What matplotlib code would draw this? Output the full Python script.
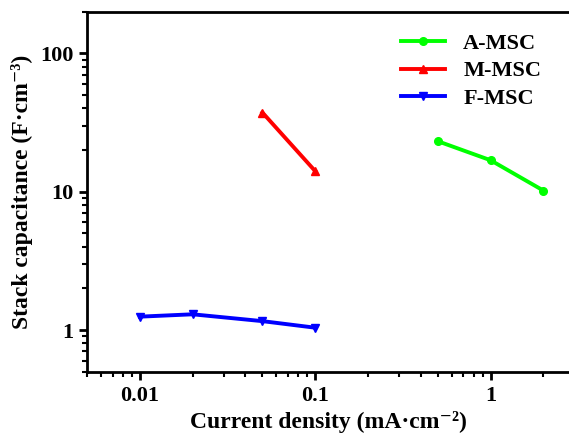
import matplotlib
matplotlib.use("Agg")
import matplotlib.pyplot as plt
from matplotlib.ticker import LogLocator, FixedLocator, FixedFormatter, NullFormatter

a_x = [0.5, 1.0, 2.0]
a_y = [23.2, 16.9, 10.2]
m_x = [0.05, 0.1]
m_y = [37.4, 14.1]
f_x = [0.01, 0.02, 0.05, 0.1]
f_y = [1.25, 1.30, 1.16, 1.04]

x_ticks = [0.01, 0.1, 1]
x_labels = ["0.01", "0.1", "1"]
y_ticks = [1, 10, 100]
y_labels = ["1", "10", "100"]

plt.rcParams['font.family'] = ['Liberation Serif', 'DejaVu Serif']
plt.rcParams['font.weight'] = 'bold'

fig = plt.figure(figsize=(5.69, 4.38), dpi=100)
ax = fig.add_axes([0.153, 0.1514, 0.847, 0.8216])

lw = 2.8
ms = 5.5
ax.plot(a_x, a_y, color='#00ff00', marker='o', lw=lw, ms=ms, label='A-MSC')
ax.plot(m_x, m_y, color='#ff0000', marker='^', lw=lw, ms=ms, label='M-MSC')
ax.plot(f_x, f_y, color='#0000ff', marker='v', lw=lw, ms=ms, label='F-MSC')

ax.set_xscale('log')
ax.set_yscale('log')
ax.set_xlim(0.005, 2.8)
ax.set_ylim(0.5, 200)

ax.xaxis.set_major_locator(FixedLocator(x_ticks))
ax.xaxis.set_major_formatter(FixedFormatter(x_labels))
ax.yaxis.set_major_locator(FixedLocator(y_ticks))
ax.yaxis.set_major_formatter(FixedFormatter(y_labels))
ax.xaxis.set_minor_locator(LogLocator(base=10, subs=range(2, 10), numticks=20))
ax.yaxis.set_minor_locator(LogLocator(base=10, subs=range(2, 10), numticks=20))
ax.xaxis.set_minor_formatter(NullFormatter())
ax.yaxis.set_minor_formatter(NullFormatter())

for s in ['left', 'bottom', 'top']:
    ax.spines[s].set_linewidth(2.0)
ax.spines['right'].set_visible(False)
ax.tick_params(which='major', direction='out', length=6, width=2, labelsize=16, pad=4)
ax.tick_params(which='minor', direction='out', length=3.5, width=1.5)
ax.tick_params(top=False, which='both')

ax.set_xlabel('Current density (mA·cm⁻²)', fontsize=17, fontweight='bold', labelpad=4)
ax.set_ylabel('Stack capacitance (F·cm⁻³)', fontsize=17, fontweight='bold', labelpad=5)

leg = ax.legend(loc='upper left', bbox_to_anchor=(0.61, 0.995), frameon=False,
                fontsize=16, handlelength=2.0, handletextpad=0.8, labelspacing=0.3)

fig.savefig('out.png', dpi=100)
